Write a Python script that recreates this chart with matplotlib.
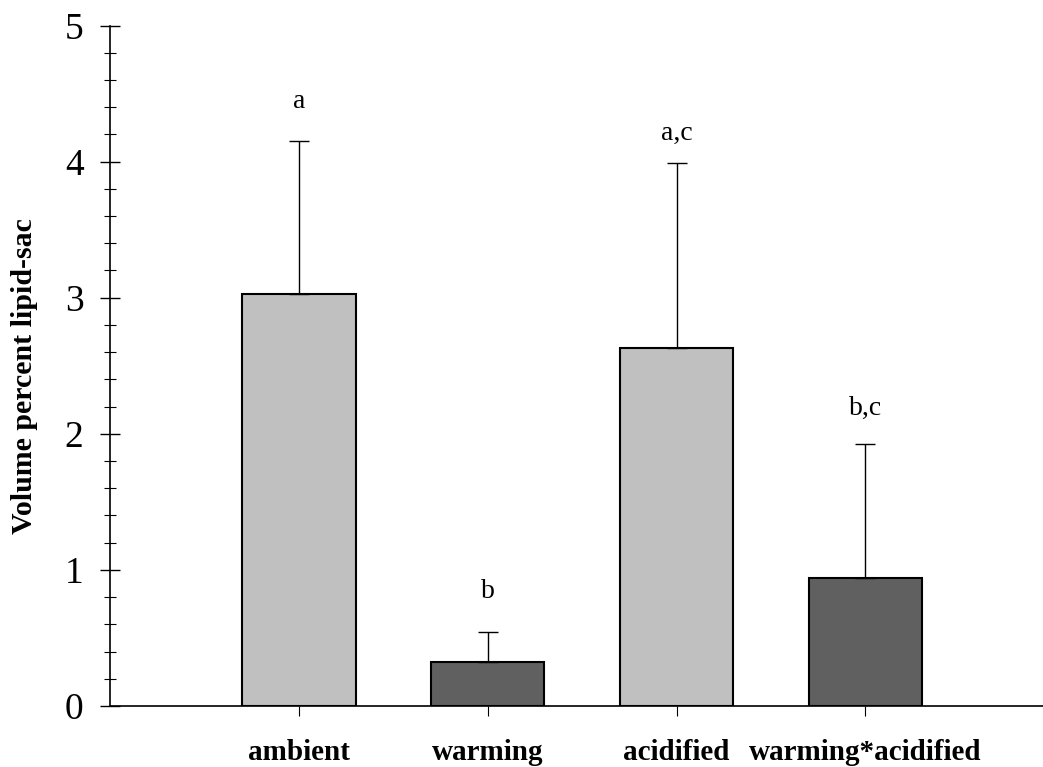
import matplotlib
matplotlib.use("Agg")
import matplotlib.pyplot as plt
import numpy as np
from matplotlib.ticker import MultipleLocator

categories = ["ambient", "warming", "acidified", "warming*acidified"]
means = [3.03, 0.325, 2.63, 0.94]
errors = [1.12, 0.22, 1.36, 0.985]
letters = ["a", "b", "a,c", "b,c"]
letter_y = [4.44, 0.84, 4.21, 2.19]
colors = ["#C0C0C0", "#606060", "#C0C0C0", "#606060"]

plt.rcParams["font.family"] = ["Liberation Serif", "DejaVu Serif"]

fig = plt.figure(figsize=(10.43, 7.67), dpi=100)
ax = fig.add_axes([110/1043, 61/767, 933/1043, 680.5/767])

x = np.arange(len(categories))
ax.bar(x, means, width=0.6, color=colors, edgecolor="black", linewidth=1.5, zorder=2)
ax.errorbar(x, means, yerr=[np.zeros(len(errors)), errors], fmt="none",
            ecolor="black", elinewidth=1.0, capsize=7, capthick=1.0, zorder=3)

for xi, lab, ly in zip(x, letters, letter_y):
    ax.text(xi, ly, lab, ha="center", va="center", fontsize=20)

ax.set_xlim(-1.0, 3.94)
ax.set_ylim(0, 5)
ax.yaxis.set_major_locator(MultipleLocator(1))
ax.yaxis.set_minor_locator(MultipleLocator(0.2))
ax.set_xticks(x)
ax.set_xticklabels(categories, fontsize=21, fontweight="bold")
ax.tick_params(axis="x", direction="out", length=7, width=0.8, pad=17)
ax.tick_params(axis="y", which="major", direction="inout", length=14, width=1.0, labelsize=27, pad=12)
ax.tick_params(axis="y", which="minor", direction="inout", length=8.5, width=0.8)

for s in ["top", "right"]:
    ax.spines[s].set_visible(False)
ax.spines["left"].set_linewidth(1.2)
ax.spines["bottom"].set_linewidth(1.2)

ax.set_ylabel("Volume percent lipid-sac", fontsize=21.5, fontweight="bold")
ax.yaxis.set_label_coords(-0.077, 0.485)

fig.savefig("out.png", dpi=100)
